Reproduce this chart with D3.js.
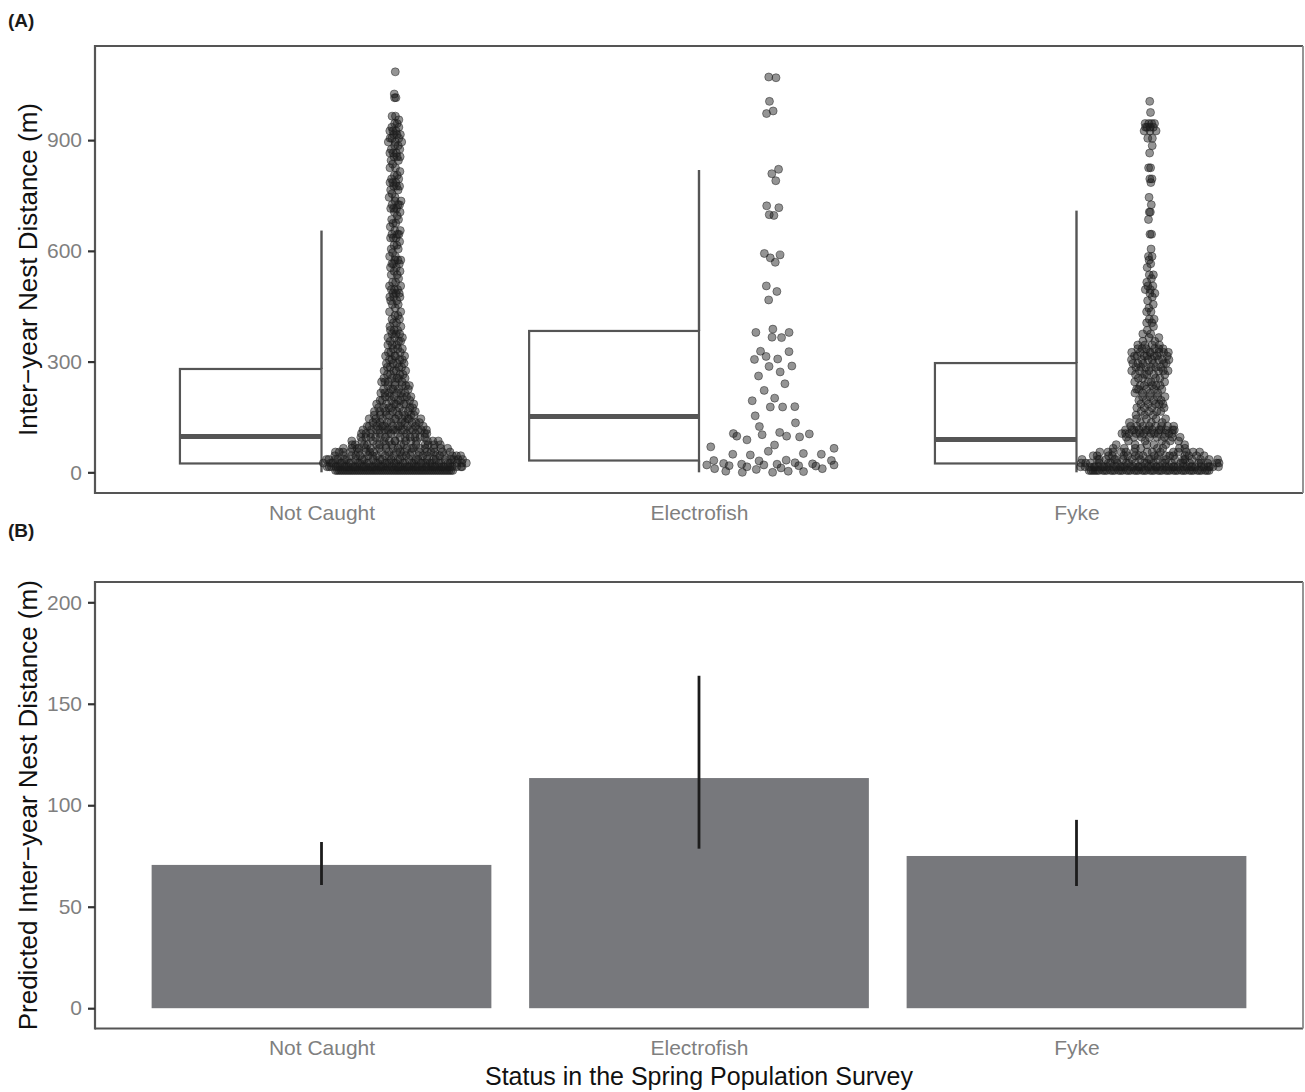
<!DOCTYPE html>
<html>
<head>
<meta charset="utf-8">
<script src="https://cdn.jsdelivr.net/npm/d3@7"></script>
<style>
  body { margin: 0; background: #fff; }
  svg { display: block; font-family: "Liberation Sans", Arial, Helvetica, sans-serif; }
</style>
</head>
<body>
<svg id="chart" width="1305" height="1092"></svg>
<script>
// ---------- data ----------
const categories = ["Not Caught", "Electrofish", "Fyke"];

// Panel A: observed inter-year nest distances (m).
// Not Caught and Fyke are tallied in 10 m distance classes (index i = class [10i, 10i+10)).
const classWidth = 10;
const notCaughtCounts = [
  62, 46, 34, 26, 23, 20, 18, 15, 13, 12,
  11, 15, 11, 10,  9,  8,  8,  7,  7,  6,
   6,  6,  5,  5,  5,  5,  4,  4,  4,  4,
   4,  4,  3,  3,  3,  3,  3,  3,  3,  2,
   2,  2,  2,  2,  1,  2,  2,  3,  3,  3,
   2,  2,  1,  2,  2,  2,  3,  3,  2,  1,
   2,  2,  1,  3,  3,  2,  1,  2,  2,  1,
   2,  3,  3,  2,  2,  1,  2,  3,  3,  2,
   2,  1,  2,  1,  2,  3,  3,  2,  2,  3,
   3,  3,  3,  2,  2,  1,  2,  0,  0,  0,
   0,  2,  1,  0,  0,  0,  0,  0,  1
];
const fykeCounts = [
  48, 40, 24, 20, 18, 14,  8,  6,  5,  8,
  12, 12,  8,  4,  4,  3,  4,  4,  5,  4,
   4,  4,  5,  5,  4,  4,  5,  6,  6,  6,
   7,  7,  7,  6,  4,  2,  2,  2,  1,  1,
   2,  2,  0,  2,  1,  1,  1,  1,  2,  2,
   2,  1,  1,  2,  0,  1,  1,  1,  2,  0,
   1,  0,  0,  0,  2,  0,  0,  0,  1,  0,
   2,  0,  1,  0,  1,  0,  0,  0,  1,  2,
   0,  0,  2,  0,  0,  0,  1,  0,  1,  0,
   2,  0,  3,  4,  4,  0,  0,  1,  0,  0,
   1
];
// Electrofish fish are few enough to list individually
const electrofishDistances = [
  1071, 1069, 1005, 979, 972, 821, 809, 790, 722, 717, 698, 696,
  593, 589, 581, 569, 505, 490, 467, 388, 379, 379, 366, 365,
  328, 327, 314, 307, 306, 288, 287, 272, 261, 240, 222, 201,
  194, 178, 177, 177, 153, 134, 124, 108, 105, 104, 102, 98,
  98, 96, 88, 74, 69, 65, 57, 51, 49, 49, 47, 33,
  32, 32, 31, 26, 24, 23, 22, 22, 20, 20, 20, 18,
  18, 17, 15, 12, 10, 10, 8, 3, 3, 2, 0, 0
];

// Boxplot summaries per category
const boxLower  = [0, 0, 0];
const boxQ1     = [24, 32, 24];
const boxMedian = [97, 151, 89];
const boxQ3     = [280, 383, 296];
const boxUpper  = [655, 819, 709];

const yTicksA = [0, 300, 600, 900];

// Panel B: model-predicted distance with confidence limits
const predicted = [70.6, 113.4, 75.0];
const predLower = [60.7, 78.6, 60.2];
const predUpper = [81.9, 163.8, 92.8];
const yTicksB = [0, 50, 100, 150, 200];

// ---------- layout ----------
const svg = d3.select("#chart");
const left = 95, right = 1303;
const panelA = { top: 46, bottom: 493 };
const panelB = { top: 582, bottom: 1028.5 };

const tickColor = "#7f7f7f";
const frameColor = "#555555";

// discrete position scale: categories at 1..3, limits 0.4..3.6
const xu = d3.scaleLinear().domain([0.4, 3.6]).range([left, right]);
const xPos = d3.scalePoint().domain(categories).range([xu(1), xu(3)]);
const unit = xu(1) - xu(0);

const yA = d3.scaleLinear().domain([-56, 1155]).range([panelA.bottom, panelA.top]);
const yB = d3.scaleLinear().domain([-10, 210]).range([panelB.bottom, panelB.top]);

// expand tallies into individual distances (class midpoint)
function expandCounts(counts) {
  const out = [];
  counts.forEach((c, i) => { for (let k = 0; k < c; k++) out.push(i * classWidth + classWidth / 2); });
  return out;
}
const groups = [expandCounts(notCaughtCounts), electrofishDistances, expandCounts(fykeCounts)];

// ---------- quasirandom (van der Corput) point offsets ----------
function vdc(k) {
  let q = 0, b = 0.5;
  while (k > 0) { q += (k & 1) * b; k >>= 1; b /= 2; }
  return q;
}
function bwNrd0(v) {
  const s = d3.deviation(v);
  const sorted = v.slice().sort(d3.ascending);
  const iqr = d3.quantileSorted(sorted, 0.75) - d3.quantileSorted(sorted, 0.25);
  let lo = Math.min(s, iqr / 1.34);
  if (!(lo > 0)) lo = s || 1;
  return 0.9 * lo * Math.pow(v.length, -0.2);
}
function quasiOffsets(values, adjust, width) {
  const n = values.length;
  const bw = bwNrd0(values) * adjust;
  const kde = y => d3.sum(values, v => Math.exp(-0.5 * ((y - v) / bw) ** 2));
  const lo = d3.min(values) - 3 * bw, hi = d3.max(values) + 3 * bw;
  let maxD = 0;
  for (let i = 0; i < 1024; i++) maxD = Math.max(maxD, kde(lo + (hi - lo) * i / 1023));
  const order = d3.range(n).sort((a, b) => values[a] - values[b] || a - b);
  const rank = new Array(n);
  order.forEach((idx, r) => { rank[idx] = r + 1; });
  return values.map((v, i) => (kde(v) / maxD) * (vdc(rank[i]) - 0.5) * 2 * width);
}

// ---------- Panel A ----------
const gA = svg.append("g");

// half boxplots (left half), whisker at category centre
const boxHalfWidth = [0.375, 0.45, 0.375];
categories.forEach((c, i) => {
  const cx = xPos(c);
  const x0 = cx - boxHalfWidth[i] * unit;
  gA.append("line").attr("x1", cx).attr("x2", cx)
    .attr("y1", yA(boxQ3[i])).attr("y2", yA(boxUpper[i]))
    .attr("stroke", frameColor).attr("stroke-width", 2.4);
  gA.append("line").attr("x1", cx).attr("x2", cx)
    .attr("y1", yA(boxQ1[i])).attr("y2", yA(boxLower[i]))
    .attr("stroke", frameColor).attr("stroke-width", 2.4);
  gA.append("rect").attr("x", x0).attr("y", yA(boxQ3[i]))
    .attr("width", cx - x0).attr("height", yA(boxQ1[i]) - yA(boxQ3[i]))
    .attr("fill", "none").attr("stroke", frameColor).attr("stroke-width", 2.2);
  gA.append("line").attr("x1", x0).attr("x2", cx)
    .attr("y1", yA(boxMedian[i])).attr("y2", yA(boxMedian[i]))
    .attr("stroke", frameColor).attr("stroke-width", 5);
});

// points
const nudge = 0.195, swarmWidth = 0.192;
categories.forEach((c, i) => {
  const vals = groups[i];
  const offs = quasiOffsets(vals, 0.5, swarmWidth * unit);
  const cx = xPos(c) + nudge * unit;
  gA.append("g").selectAll("circle").data(vals).join("circle")
    .attr("cx", (d, j) => cx + offs[j])
    .attr("cy", d => yA(d))
    .attr("r", 4)
    .attr("fill", "rgba(28,28,28,0.47)")
    .attr("stroke", "rgba(28,28,28,0.47)")
    .attr("stroke-width", 1);
});

function drawFrame(g, p) {
  g.append("line").attr("x1", left).attr("x2", right).attr("y1", p.top).attr("y2", p.top)
    .attr("stroke", frameColor).attr("stroke-width", 2.2);
  g.append("line").attr("x1", left).attr("x2", right).attr("y1", p.bottom).attr("y2", p.bottom)
    .attr("stroke", frameColor).attr("stroke-width", 2.2);
  g.append("line").attr("x1", left).attr("x2", left).attr("y1", p.top - 1.1).attr("y2", p.bottom + 1.1)
    .attr("stroke", frameColor).attr("stroke-width", 2.2);
  g.append("line").attr("x1", right).attr("x2", right).attr("y1", p.top).attr("y2", p.bottom)
    .attr("stroke", "#8a8a8a").attr("stroke-width", 1.8);
}

function styleAxis(g) {
  g.select(".domain").remove();
  g.selectAll(".tick line").attr("stroke", "#333").attr("stroke-width", 2.2);
  g.selectAll(".tick text").attr("fill", tickColor)
    .style("font-size", "21px").style("font-family", "'Liberation Sans', Arial, sans-serif");
}

drawFrame(gA, panelA);
gA.append("g").attr("transform", `translate(${left},0)`)
  .call(d3.axisLeft(yA).tickValues(yTicksA).tickSize(7).tickPadding(6))
  .call(styleAxis);
gA.append("g").attr("transform", `translate(0,${panelA.bottom})`)
  .call(d3.axisBottom(xPos).tickSize(0).tickPadding(12))
  .call(styleAxis);

gA.append("text").attr("transform", `translate(37,${(panelA.top + panelA.bottom) / 2}) rotate(-90)`)
  .attr("text-anchor", "middle").attr("fill", "#111").style("font-size", "26px")
  .text("Inter\u2212year Nest Distance (m)");
svg.append("text").attr("x", 8).attr("y", 27).attr("fill", "#1a1a1a")
  .style("font-size", "19px").style("font-weight", "bold").text("(A)");

// ---------- Panel B ----------
const gB = svg.append("g");
const barHalf = 0.45 * unit;
gB.selectAll("rect.bar").data(categories).join("rect").attr("class", "bar")
  .attr("x", c => xPos(c) - barHalf)
  .attr("width", 2 * barHalf)
  .attr("y", (c, i) => yB(predicted[i]))
  .attr("height", (c, i) => yB(0) - yB(predicted[i]))
  .attr("fill", "#77787c");
gB.selectAll("line.err").data(categories).join("line").attr("class", "err")
  .attr("x1", c => xPos(c)).attr("x2", c => xPos(c))
  .attr("y1", (c, i) => yB(predLower[i]))
  .attr("y2", (c, i) => yB(predUpper[i]))
  .attr("stroke", "#1c1c1c").attr("stroke-width", 2.8);

drawFrame(gB, panelB);
gB.append("g").attr("transform", `translate(${left},0)`)
  .call(d3.axisLeft(yB).tickValues(yTicksB).tickSize(7).tickPadding(6))
  .call(styleAxis);
gB.append("g").attr("transform", `translate(0,${panelB.bottom})`)
  .call(d3.axisBottom(xPos).tickSize(0).tickPadding(12))
  .call(styleAxis);

gB.append("text").attr("transform", `translate(37,${(panelB.top + panelB.bottom) / 2}) rotate(-90)`)
  .attr("text-anchor", "middle").attr("fill", "#111").style("font-size", "26px")
  .text("Predicted Inter\u2212year Nest Distance (m)");
svg.append("text").attr("x", (left + right) / 2).attr("y", 1085)
  .attr("text-anchor", "middle").attr("fill", "#111").style("font-size", "25px")
  .text("Status in the Spring Population Survey");
svg.append("text").attr("x", 8).attr("y", 537).attr("fill", "#1a1a1a")
  .style("font-size", "19px").style("font-weight", "bold").text("(B)");
</script>
</body>
</html>
